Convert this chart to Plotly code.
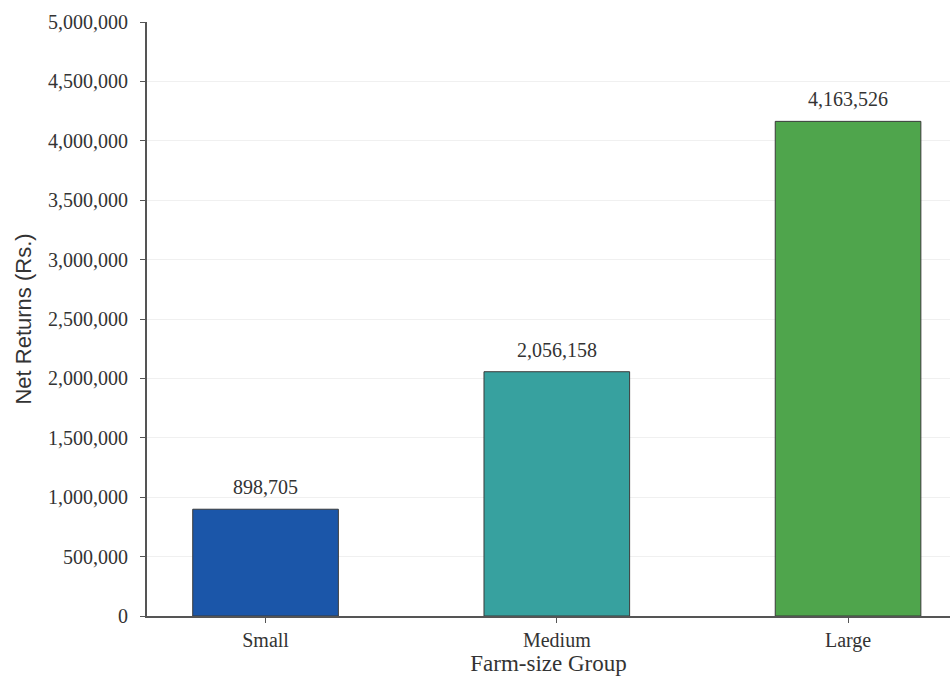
import plotly.graph_objects as go

categories = ["Small", "Medium", "Large"]
net_returns = [898705, 2056158, 4163526]
bar_colors = ["#1b56a9", "#37a19f", "#4fa54c"]
y_ticks = list(range(0, 5000001, 500000))
y_tick_labels = [f"{v:,}" for v in y_ticks]

SERIF = "Liberation Serif"
TXT = "#333333"

fig = go.Figure()
fig.add_trace(go.Bar(
    x=categories,
    y=net_returns,
    width=0.5,
    marker=dict(color=bar_colors, line=dict(color="#3a3a3a", width=1)),
    hoverinfo="x+y",
))

for c, v in zip(categories, net_returns):
    fig.add_annotation(
        x=c, y=v, text=f"{v:,}", showarrow=False,
        yanchor="bottom", yshift=9,
        font=dict(family=SERIF, size=20, color=TXT),
    )

fig.update_layout(
    width=950, height=680,
    margin=dict(l=147, r=0, t=22, b=64),
    paper_bgcolor="white", plot_bgcolor="white",
    showlegend=False,
)
fig.update_xaxes(
    range=[-0.407, 2.35],
    showline=True, linecolor="#555555", linewidth=2,
    ticks="outside", ticklen=5, tickcolor="#555555",
    tickfont=dict(family=SERIF, size=20, color=TXT),
    title=dict(text="Farm-size Group", font=dict(family=SERIF, size=23, color=TXT), standoff=0),
    showgrid=False,
)
fig.update_yaxes(
    range=[0, 5000000],
    tickvals=y_ticks, ticktext=y_tick_labels,
    showline=True, linecolor="#555555", linewidth=2,
    ticks="outside", ticklen=5, tickcolor="#555555",
    ticklabelstandoff=8,
    tickfont=dict(family=SERIF, size=20, color=TXT),
    showgrid=True, gridcolor="#f0f0f0", gridwidth=1,
    zeroline=False,
    title=dict(text="Net Returns (Rs.)", font=dict(family="Liberation Sans", size=22, color=TXT), standoff=10),
)

fig.write_html("out.html")
